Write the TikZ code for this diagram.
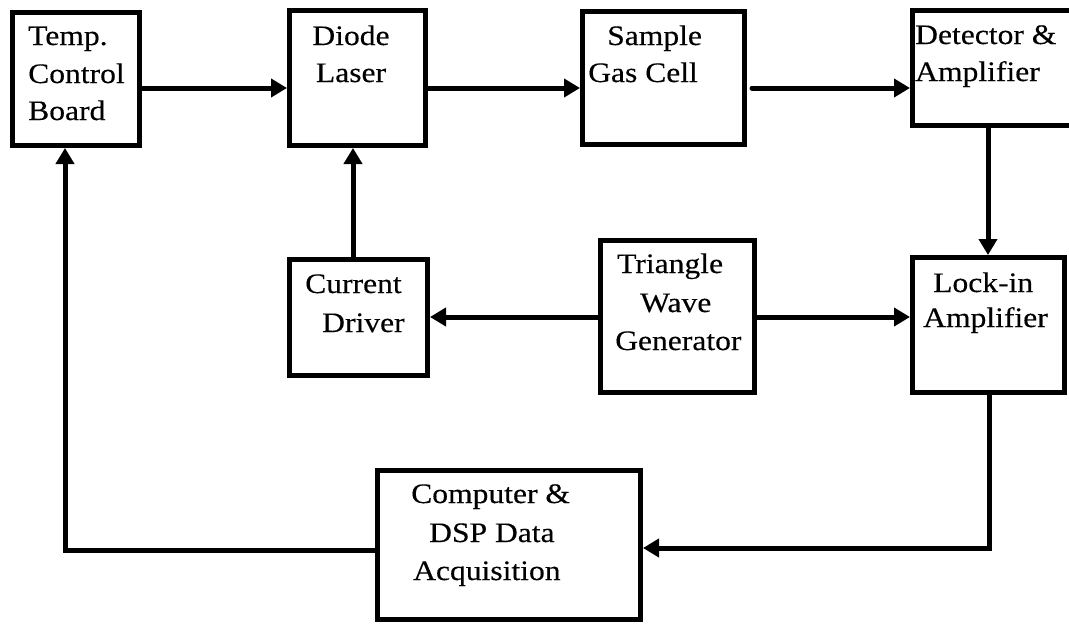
\documentclass[tikz,border=0pt]{standalone}
\usepackage{fontspec}
\setmainfont{Liberation Serif}[FakeStretch=1.12,FakeBold=0.3]
\usetikzlibrary{arrows.meta}
\begin{document}
\begin{tikzpicture}[x=1pt,y=-1pt,
  blk/.style={draw=black,line width=5pt,rectangle,inner sep=0pt,fill=white},
  txt/.style={inner sep=0pt,anchor=base west,font=\fontsize{28.2}{37}\selectfont},
  txtc/.style={inner sep=0pt,anchor=base,font=\fontsize{28.2}{37}\selectfont},
  conn/.style={line width=5pt,-{Triangle[length=16pt,width=18pt]}},
  plain/.style={line width=5pt}]
\clip (0,0) rectangle (1069,624);
\fill[white] (0,0) rectangle (1069,624);
% boxes
\node[blk,minimum width=127pt,minimum height=133pt] (temp) at (76,79) {};
\node[blk,minimum width=136pt,minimum height=135pt] (diode) at (357.5,78) {};
\node[blk,minimum width=162pt,minimum height=133pt] (cell) at (663.5,78) {};
\node[blk,minimum width=175pt,minimum height=115pt] (det) at (1000,68) {};
\node[blk,minimum width=138pt,minimum height=116pt] (cur) at (358.5,317.5) {};
\node[blk,minimum width=154pt,minimum height=152pt] (twg) at (677.5,316.5) {};
\node[blk,minimum width=152pt,minimum height=135pt] (lock) at (988.5,325) {};
\node[blk,minimum width=263pt,minimum height=149pt] (comp) at (509,545) {};
% texts
\node[txt] (tempa) at (28,45) {Temp.};
\node[txt] (tempb) at (28,83) {Control};
\node[txt] (tempc) at (28,120) {Board};
\node[txtc] (diodea) at (351,45) {Diode};
\node[txtc] (diodeb) at (351,82) {Laser};
\node[txt] (cella) at (607,45) {Sample};
\node[txt] (cellb) at (588,82) {Gas Cell};
\node[txt] (deta) at (915,44) {Detector \&};
\node[txt] (detb) at (915,81) {Amplifier};
\node[txt] (cura) at (305,293) {Current};
\node[txt] (curb) at (322,332) {Driver};
\node[txt] (twga) at (617,273) {Triangle};
\node[txt] (twgb) at (640,312) {Wave};
\node[txt] (twgc) at (615,350) {Generator};
\node[txt] (locka) at (933,292) {Lock-in};
\node[txt] (lockb) at (923,327) {Amplifier};
\node[txt] (compa) at (411,503) {Computer \&};
\node[txt] (compb) at (429,542) {DSP Data};
\node[txt] (compc) at (413,580) {Acquisition};
% connectors
\coordinate (cellout) at (752,88);
\draw[conn] (temp.east |- 0,88) -- (diode.west |- 0,88);
\draw[conn] (diode.east |- 0,88) -- (cell.west |- 0,88);
\draw[conn,line cap=round] (cellout) -- (det.west |- cellout);
\draw[conn] (det.south -| 988,0) -- (lock.north -| 988,0);
\draw[conn] (cur.north -| 353,0) -- (diode.south -| 353,0);
\draw[conn] (twg.west |- 0,317) -- (cur.east |- 0,317);
\draw[conn] (twg.east |- 0,317) -- (lock.west |- 0,317);
\draw[conn] (lock.south -| 989,0) |- (comp.east |- 0,548);
\draw[conn] (comp.west |- 0,550) -| (temp.south -| 65,0);
\end{tikzpicture}
\end{document}
